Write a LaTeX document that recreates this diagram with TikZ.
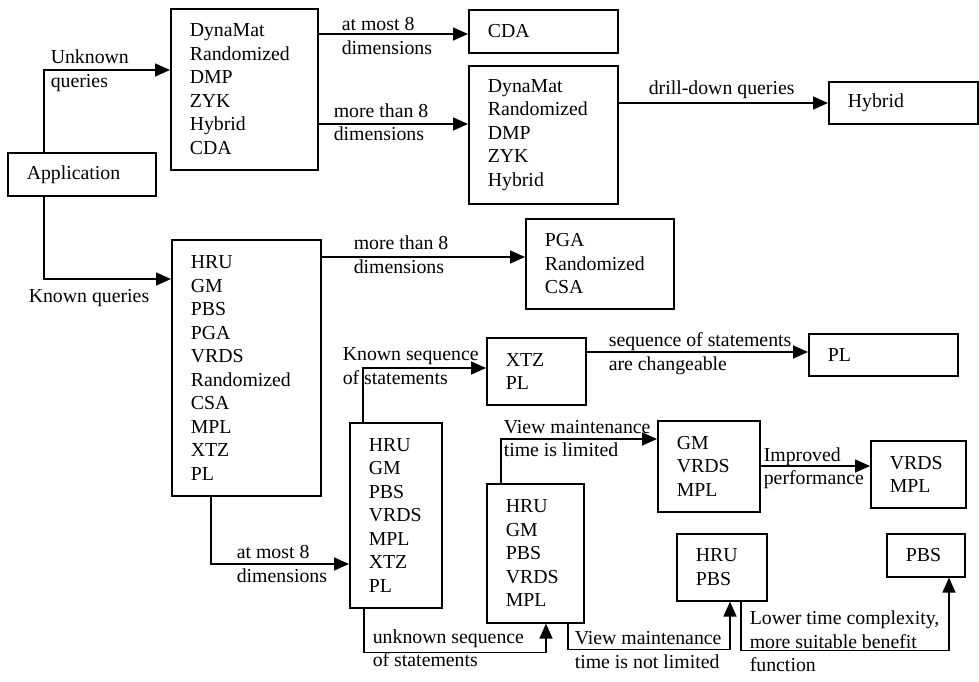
\documentclass[tikz,border=0pt]{standalone}
\usepackage{fontspec}
\setmainfont{Liberation Serif}
\usetikzlibrary{arrows.meta,calc}

\begin{document}
\begin{tikzpicture}[x=1pt,y=-1pt,line width=1.6pt,
        font=\fontsize{19.8}{23.5}\selectfont,
        box/.style={draw,anchor=north west,align=left,inner xsep=19pt,inner ysep=0pt},
        lbl/.style={anchor=west,align=left,inner sep=0pt},
        arr/.style={-{Triangle[length=15pt,width=13pt]}}]
        \useasboundingbox (0,0) rectangle (979,681);
        % boxes
        \node[box,text width=110pt,minimum height=43pt] (app) at (7,152) {Application};
        \node[box,text width=109pt,minimum height=161pt] (unk) at (170,8)
          {DynaMat\\Randomized\\DMP\\ZYK\\Hybrid\\CDA};
        \node[box,text width=111pt,minimum height=43pt] (cda) at (468,9) {CDA};
        \node[box,text width=111pt,minimum height=138pt] (unkhi) at (468,65)
          {DynaMat\\Randomized\\DMP\\ZYK\\Hybrid};
        \node[box,text width=111pt,minimum height=42pt] (hyb) at (828,81) {Hybrid};
        \node[box,text width=111pt,minimum height=256pt] (known) at (171,239)
          {HRU\\GM\\PBS\\PGA\\VRDS\\Randomized\\CSA\\MPL\\XTZ\\PL};
        \node[box,text width=110pt,minimum height=90pt] (knhi) at (525,218)
          {PGA\\Randomized\\CSA};
        \node[box,text width=54pt,minimum height=185pt] (knlo) at (349,422)
          {HRU\\GM\\PBS\\VRDS\\MPL\\XTZ\\PL};
        \node[box,text width=61pt,minimum height=67pt] (seq) at (486,337) {XTZ\\PL};
        \node[box,text width=111pt,minimum height=42pt] (pl) at (808,333) {PL};
        \node[box,text width=59pt,minimum height=139pt] (nosq) at (486,483)
          {HRU\\GM\\PBS\\VRDS\\MPL};
        \node[box,text width=64pt,minimum height=91pt] (lim) at (657,420)
          {GM\\VRDS\\MPL};
        \node[box,text width=57pt,minimum height=67pt] (imp) at (870,440) {VRDS\\MPL};
        \node[box,text width=52pt,minimum height=67pt] (nlim) at (676,533) {HRU\\PBS};
        \node[box,text width=40pt,minimum height=43pt] (pbs) at (886,533) {PBS};
        % connectors
        \draw[arr] ($(app.north west)+(37,0)$) |- ($(unk.north west)+(0,62)$);
        \draw[arr] ($(app.south west)+(37,0)$) |- ($(known.north west)+(0,40)$);
        \draw[arr] ($(unk.north east)+(0,26)$) -- ($(cda.north west)+(0,25)$);
        \draw[arr] ($(unk.north east)+(0,116)$) -- ($(unkhi.north west)+(0,59)$);
        \draw[arr] ($(unkhi.north east)+(0,38)$) -- ($(hyb.north west)+(0,22)$);
        \draw[arr] ($(known.north east)+(0,18)$) -- ($(knhi.north west)+(0,39)$);
        \draw[arr] ($(known.south west)+(40,0)$) |- ($(knlo.north west)+(0,142)$);
        \draw[arr] ($(knlo.north west)+(14,0)$) |- ($(seq.north west)+(0,31)$);
        \draw[arr] ($(seq.north east)+(0,15)$) -- ($(pl.north west)+(0,19)$);
        \draw[arr] ($(knlo.south west)+(15,0)$) -- ++(0,44) -| ($(nosq.south west)+(60,0)$);
        \draw[arr] ($(nosq.north west)+(15,0)$) |- ($(lim.north west)+(0,19)$);
        \draw[arr] ($(lim.north east)+(0,46)$) -- ($(imp.north west)+(0,26)$);
        \draw[arr] ($(nosq.south west)+(82,0)$) -- ++(0,26) -| ($(nlim.south west)+(54,0)$);
        \draw[arr] ($(nlim.south west)+(65,0)$) -- ++(0,49) -| ($(pbs.south west)+(63,0)$);
        % labels
        \node[lbl] (l-unk) at (50,70.5) {Unknown\\queries};
        \node[lbl] (l-known) at (28,298) {Known queries};
        \node[lbl] (l-cda) at (341,36) {at most 8\\dimensions};
        \node[lbl] (l-unkhi) at (333,122) {more than 8\\dimensions};
        \node[lbl] (l-hyb) at (648,90) {drill-down queries};
        \node[lbl] (l-knhi) at (353,254.5) {more than 8\\dimensions};
        \node[lbl] (l-knlo) at (236,564) {at most 8\\dimensions};
        \node[lbl] (l-seq) at (342,366) {Known sequence\\of statements};
        \node[lbl] (l-pl) at (608,353.5) {sequence of statements\\are changeable};
        \node[lbl] (l-lim) at (503,438.5) {View maintenance\\time is limited};
        \node[lbl] (l-nosq) at (372,648) {unknown sequence\\of statements};
        \node[lbl] (l-imp) at (763,468) {Improved\\performance};
        \node[lbl] (l-nlim) at (574,650) {View maintenance\\time is not limited};
        \node[lbl] (l-pbs) at (749,641.5) {Lower time complexity,\\more suitable benefit\\function};
      \end{tikzpicture}
\end{document}
